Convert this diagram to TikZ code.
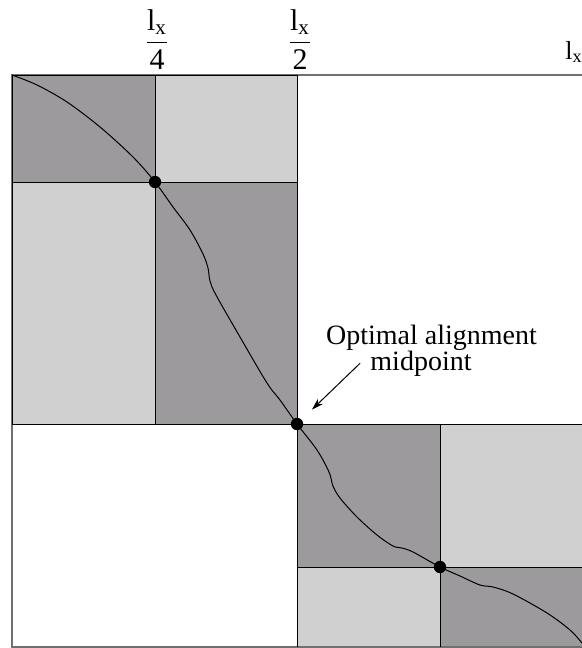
\documentclass[tikz,border=0pt]{standalone}
\usepackage{amsmath}
\usepackage{fontspec}
\setmainfont{Liberation Serif}
\usepackage{tikz}
\usetikzlibrary{arrows.meta,positioning,calc}
\definecolor{cellDark}{RGB}{156,154,156}
\definecolor{cellLight}{RGB}{208,208,208}
\definecolor{frameGray}{RGB}{112,112,112}
\tikzset{
  darkcell/.style={fill=cellDark},
  lightcell/.style={fill=cellLight},
  gridline/.style={draw=black, line width=0.5pt},
  frameline/.style={draw=frameGray, line width=0.6pt},
  pathdot/.style={circle, fill=black, inner sep=0pt, minimum size=6.2pt},
  pathcurve/.style={draw=black, line width=0.5pt},
  pointer/.style={-{Stealth[length=6pt,width=3.6pt]}, line width=0.5pt, shorten >=7pt},
  axislabel/.style={inner sep=0pt, font=\fontsize{15}{18}\selectfont},
  notelabel/.style={inner sep=0pt, font=\fontsize{14}{13}\selectfont},
}

\begin{document}
\begin{tikzpicture}[x=0.5pt, y=-0.5pt]
  \useasboundingbox (0,0) rectangle (582,648);

  % Upper-left half
  \fill[darkcell]  (12,75)   rectangle (155,182);
  \fill[lightcell] (155,75)  rectangle (297,182);
  \fill[lightcell] (12,182)  rectangle (155,424);
  \fill[darkcell]  (155,182) rectangle (297,424);

  % Lower-right half
  \fill[darkcell]  (297,424) rectangle (440,567);
  \fill[lightcell] (440,424) rectangle (592,567);
  \fill[lightcell] (297,567) rectangle (440,647);
  \fill[darkcell]  (440,567) rectangle (592,647);

  % Outer frame
  \draw[frameline] (592,75) -- (12,75) -- (12,647) -- (592,647);

  % Block borders
  \draw[gridline] (12,75) rectangle (297,424);
  \draw[gridline] (155,75) -- (155,424);
  \draw[gridline] (12,182) -- (297,182);
  \draw[gridline] (297,424) -- (592,424);
  \draw[gridline] (297,424) -- (297,647);
  \draw[gridline] (440,424) -- (440,647);
  \draw[gridline] (297,567) -- (592,567);

  % Alignment path
  \draw[pathcurve] plot[smooth, tension=0.55] coordinates {
    (12,75) (37,85) (67,102) (100,127) (133,157) (155,182)
    (173,207) (190,230) (203,254) (208,268) (210,281) (216,295)
    (240,337) (267,383) (280,400) (297,424)
    (317,450) (329,472) (333,486) (340,498) (357,517) (377,535)
    (393,546) (402,548) (413,552) (440,567)
    (460,576) (480,585) (493,587) (513,594) (547,613) (570,630) (582,643) (590,653)};

  % Split points
  \node[pathdot] (quarter) at (155,182) {};
  \node[pathdot] (mid)     at (297,424) {};
  \node[pathdot] (threeq)  at (440,567) {};

  % Axis labels
  \node[axislabel, anchor=base] (lxq) at (157,49.5) {$\dfrac{\textrm{l}_{\textrm{x}}}{\textrm{4}}$};
  \node[axislabel, anchor=base] (lxh) at (300,49.5) {$\dfrac{\textrm{l}_{\textrm{x}}}{\textrm{2}}$};
  \node[inner sep=0pt, font=\fontsize{13}{15}\selectfont, anchor=base west] (lxf) at (565,59) {l$_{\textrm{x}}$};

  % Annotation
  \node[notelabel, anchor=base] (noteA) at (431.5,344) {Optimal alignment};
  \node[notelabel, anchor=base] (noteB) at (421,370) {midpoint};
  \draw[pointer] ([xshift=-5pt]noteB.west) -- (mid);
\end{tikzpicture}
\end{document}
